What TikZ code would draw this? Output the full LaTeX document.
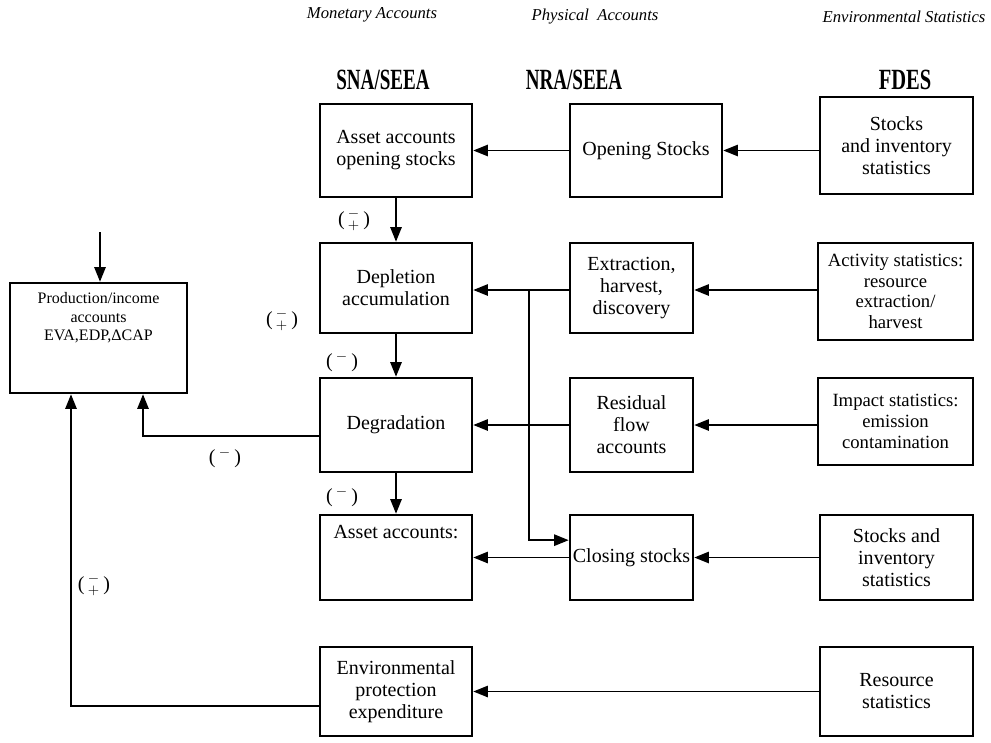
\documentclass[tikz,border=0pt]{standalone}
\usepackage{fontspec}
\setmainfont{Liberation Serif}
\usetikzlibrary{arrows.meta}

\tikzset{
  acct/.style={draw, line width=1.9pt, align=center, inner sep=2pt,
    font=\fontsize{15}{16.5}\selectfont},
  stat/.style={acct, font=\fontsize{14}{15.5}\selectfont},
  flow/.style={line width=1.4pt, -{Triangle[length=11pt,width=8.5pt]}},
  sign/.style={font=\fontsize{15}{16}\selectfont},
  colhead/.style={font=\itshape\fontsize{12.5}{14}\selectfont},
  systag/.style={font=\bfseries\fontsize{22}{24}\selectfont},
}

\begin{document}
\begin{tikzpicture}[x=0.75pt, y=-0.75pt]
  \useasboundingbox (0,0) rectangle (991,742);

  \node[colhead] (mon) at (372,15) {Monetary Accounts};
  \node[colhead] (phy) at (595,17) {Physical\ \ Accounts};
  \node[colhead] (env) at (904,17) {Environmental Statistics};

  \node[systag] (sna) at (383,80) {\scalebox{0.65}[1]{SNA/SEEA}};
  \node[systag] (nra) at (574,80) {\scalebox{0.65}[1]{NRA/SEEA}};
  \node[systag] (fdes) at (905,80) {\scalebox{0.7}[1]{FDES}};

  \node[acct, minimum width=114pt, minimum height=69.75pt] (a1) at (396,150.5) {Asset accounts\\opening stocks};
  \node[acct, minimum width=114pt, minimum height=67.5pt] (a2) at (396,288) {Depletion\\accumulation};
  \node[acct, minimum width=114pt, minimum height=70.5pt] (a3) at (396,425) {Degradation};
  \node[acct, minimum width=114pt, minimum height=63.75pt] (a4) at (396,557.5) {Asset accounts:\\ \strut\\ \strut};
  \node[acct, minimum width=114pt, minimum height=66.75pt] (a5) at (396,691.5) {Environmental\\protection\\expenditure};

  \node[acct, minimum width=114pt, minimum height=69.75pt] (n1) at (646,150.5) {Opening Stocks};
  \node[acct, minimum width=92.25pt, minimum height=67.5pt] (n2) at (631.5,288) {Extraction,\\harvest,\\discovery};
  \node[acct, minimum width=92.25pt, minimum height=70.5pt] (n3) at (631.5,425) {Residual\\flow\\accounts};
  \node[acct, minimum width=92.25pt, minimum height=63.75pt] (n4) at (631.5,557.5) {Closing stocks};

  \node[acct, minimum width=114.75pt, minimum height=72.75pt] (f1) at (896.5,145.5) {Stocks\\and inventory\\statistics};
  \node[stat, minimum width=116.25pt, minimum height=72.75pt] (f2) at (895.5,291.5) {Activity statistics:\\resource\\extraction/\\harvest};
  \node[stat, minimum width=116.25pt, minimum height=65.25pt] (f3) at (895.5,421.5) {Impact statistics:\\emission\\contamination};
  \node[acct, minimum width=114.75pt, minimum height=63.75pt] (f4) at (896.5,557.5) {Stocks and\\inventory\\statistics};
  \node[acct, minimum width=114.75pt, minimum height=66.75pt] (f5) at (896.5,691.5) {Resource\\statistics};

  \node[acct, font=\fontsize{12}{14}\selectfont, minimum width=132.75pt, minimum height=82.5pt] (prod) at (98.5,338) {Production/income\\accounts\\EVA,EDP,ΔCAP\\ \strut\\ \strut};

  \node[sign] (s1) at (354,220) {(\,$^{-}_{+}$\,)};
  \node[sign] (s2) at (282,320) {(\,$^{-}_{+}$\,)};
  \node[sign] (s3) at (342,362) {(\,$^{-}$\,)};
  \node[sign] (s4) at (225,458) {(\,$^{-}$\,)};
  \node[sign] (s5) at (342,497) {(\,$^{-}$\,)};
  \node[sign] (s6) at (94,585) {(\,$^{-}_{+}$\,)};

  \coordinate (split) at (529,290);
  \coordinate (top) at (100,232);
  \coordinate (dg) at (143,0);
  \coordinate (ep) at (71,0);

  \draw[flow] (a1.south) -- (a2.north);
  \draw[flow] (a2.south) -- (a3.north);
  \draw[flow] (a3.south) -- (a4.north);

  \draw[flow] (n1.west) -- (a1.east);
  \draw[flow] (f1.west |- n1.east) -- (n1.east);
  \draw[flow] (n2.west |- split) -- (a2.east |- split);
  \draw[flow] (split) |- ([yshift=13pt]n4.west);
  \draw[flow] (f2.west |- split) -- (n2.east |- split);
  \draw[flow] (n3.west) -- (a3.east);
  \draw[flow] (f3.west |- n3.east) -- (n3.east);
  \draw[flow] (n4.west) -- (a4.east);
  \draw[flow] (f4.west) -- (n4.east);
  \draw[flow] (f5.west) -- (a5.east);

  \draw[flow] (top) -- (top |- prod.north);
  \draw[flow] (a3.west |- 0,436) -| (dg |- prod.south);
  \draw[flow] (a5.west |- 0,706) -| (ep |- prod.south);
\end{tikzpicture}
\end{document}
